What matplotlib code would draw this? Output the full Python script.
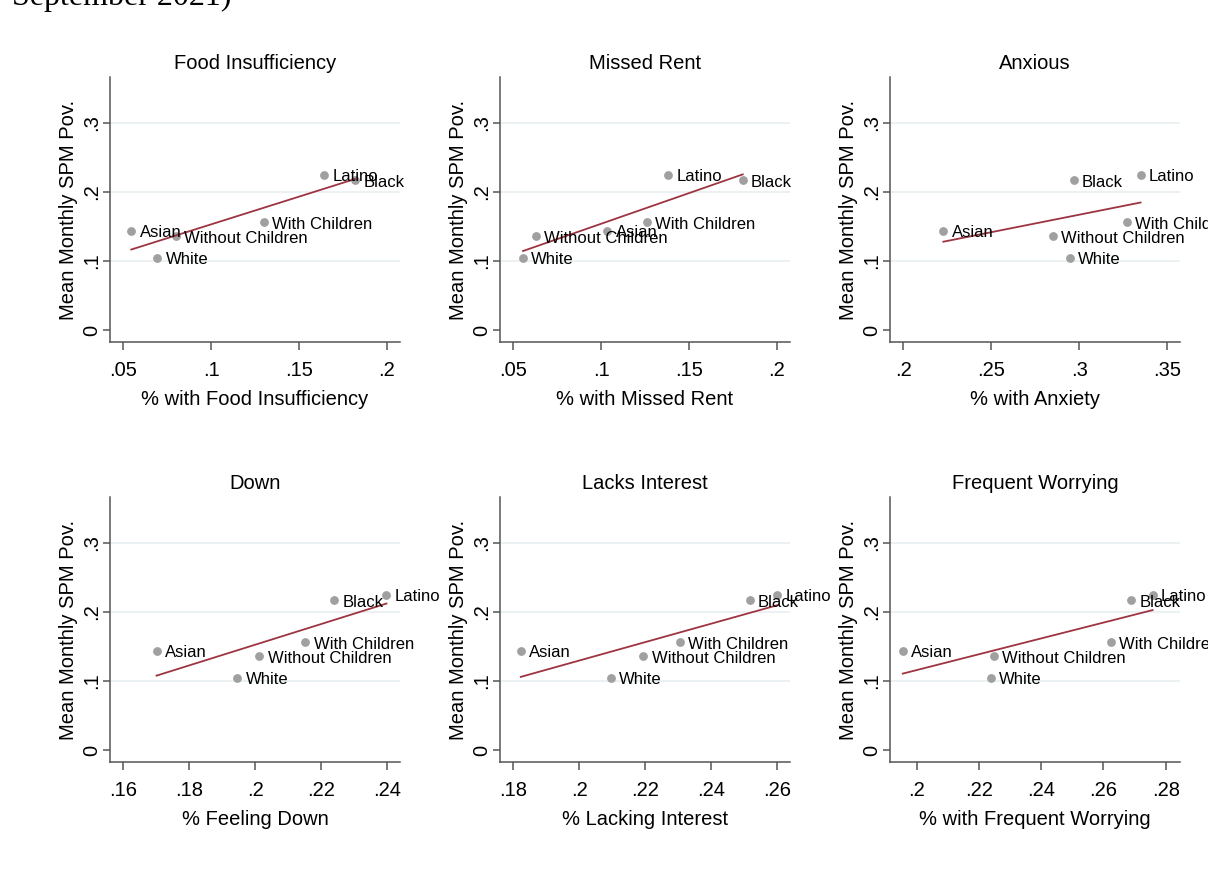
import numpy as np
import matplotlib
matplotlib.use("Agg")
import matplotlib.pyplot as plt

# ======================================
# Data
# ======================================

groups = ["Asian", "Black", "Latino", "White", "With Children", "Without Children"]
spm_pov = [0.144, 0.217, 0.225, 0.105, 0.156, 0.136]

food_insuff = [0.0545, 0.1818, 0.1644, 0.0693, 0.130, 0.0797]
missed_rent = [0.1034, 0.1805, 0.1379, 0.0555, 0.126, 0.0629]
anxious = [0.2227, 0.2968, 0.3348, 0.2945, 0.3271, 0.2850]
feeling_down = [0.1701, 0.2240, 0.2398, 0.1946, 0.2152, 0.2013]
lacks_interest = [0.1823, 0.2517, 0.2601, 0.2095, 0.2306, 0.2194]
worrying = [0.1955, 0.2688, 0.2758, 0.2238, 0.2623, 0.2248]

titles = ["Food Insufficiency", "Missed Rent", "Anxious",
          "Down", "Lacks Interest", "Frequent Worrying"]
xlabels = ["% with Food Insufficiency", "% with Missed Rent", "% with Anxiety",
           "% Feeling Down", "% Lacking Interest", "% with Frequent Worrying"]
series = [food_insuff, missed_rent, anxious, feeling_down, lacks_interest, worrying]

xticks = [[0.05, 0.1, 0.15, 0.2], [0.05, 0.1, 0.15, 0.2], [0.2, 0.25, 0.3, 0.35],
          [0.16, 0.18, 0.2, 0.22, 0.24], [0.18, 0.2, 0.22, 0.24, 0.26],
          [0.2, 0.22, 0.24, 0.26, 0.28]]
xlims = [(0.0424, 0.2074), (0.0424, 0.2074), (0.1924, 0.3572),
         (0.156, 0.2439), (0.176, 0.2639), (0.1914, 0.2846)]
yticks = [0, 0.1, 0.2, 0.3]
ylim = (-0.0174, 0.3667)

# ======================================
# Style
# ======================================

plt.rcParams["font.family"] = ["Liberation Sans", "DejaVu Sans"]
W, H = 1208, 882
fig = plt.figure(figsize=(W / 100, H / 100), dpi=100)

axis_col = "#555555"
grid_col = "#E6EEF0"
dot_col = "#A0A0A0"
fit_col = "#9E3441"


def stata_num(v):
    s = ("%g" % v)
    return s[1:] if s.startswith("0.") else s


col_left = [110, 500, 890]
row_bottom = [342, 762]
pw, ph = 290, 265

# ======================================
# Panels: scatter + linear fit
# ======================================

for i in range(6):
    r, c = divmod(i, 3)
    ax = fig.add_axes([col_left[c] / W, 1 - row_bottom[r] / H, pw / W, ph / H])
    x = np.array(series[i])
    y = np.array(spm_pov)

    for g in yticks[1:]:
        ax.axhline(g, color=grid_col, lw=1.1, zorder=0)

    ax.scatter(x, y, s=40, color=dot_col, zorder=2, linewidths=0)
    slope, icpt = np.polyfit(x, y, 1)
    xs = np.array([x.min(), x.max()])
    ax.plot(xs, icpt + slope * xs, color=fit_col, lw=1.3, zorder=3)

    for name, xv, yv in zip(groups, x, y):
        ax.annotate(name, (xv, yv), xytext=(6, -1.5), textcoords="offset points",
                    va="center", ha="left", fontsize=12, color="black",
                    annotation_clip=False, zorder=4)

    ax.set_xlim(*xlims[i])
    ax.set_ylim(*ylim)
    ax.set_xticks(xticks[i])
    ax.set_xticklabels([stata_num(v) for v in xticks[i]])
    ax.set_yticks(yticks)
    ax.set_yticklabels([stata_num(v) for v in yticks])

    for side in ["top", "right"]:
        ax.spines[side].set_visible(False)
    for side in ["left", "bottom"]:
        ax.spines[side].set_color(axis_col)
        ax.spines[side].set_linewidth(1.1)

    ax.tick_params(axis="x", length=5.8, width=1.1, color=axis_col, pad=8,
                   labelsize=14.5)
    ax.tick_params(axis="y", length=4.8, width=1.1, color=axis_col, pad=1.5,
                   labelsize=14.5, labelrotation=90)
    for lab in ax.get_yticklabels():
        lab.set_va("center")

    ax.set_title(titles[i], fontsize=14.5, pad=6)
    ax.set_xlabel(xlabels[i], fontsize=14.5)
    ax.xaxis.set_label_coords(0.5, -0.18)
    ax.set_ylabel("Mean Monthly SPM Pov.", fontsize=14.5)
    ax.yaxis.set_label_coords(-0.112, 0.5)

fig.text(12 / W, 1 - 5 / H, "September 2021)", family=["Liberation Serif", "DejaVu Serif"],
         fontsize=23, va="baseline", ha="left")

fig.savefig("out.png", dpi=100, facecolor="white")
